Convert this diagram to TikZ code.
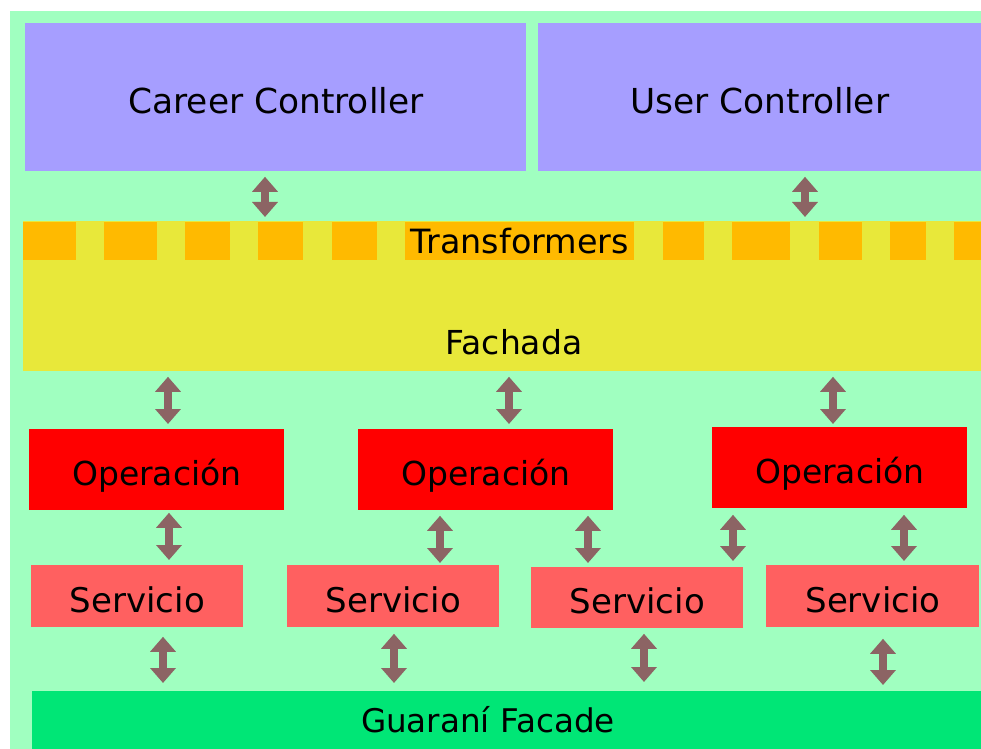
\documentclass[tikz,border=0pt]{standalone}
\usepackage{fontspec}
\setmainfont{DejaVu Sans}
\usetikzlibrary{arrows.meta}
\definecolor{bgc}{RGB}{160,255,192}
\definecolor{ctrlc}{RGB}{166,158,255}
\definecolor{facc}{RGB}{232,232,58}
\definecolor{orc}{RGB}{255,186,0}
\definecolor{opc}{RGB}{255,0,0}
\definecolor{svc}{RGB}{255,96,96}
\definecolor{guc}{RGB}{0,230,118}
\definecolor{arrc}{RGB}{140,100,100}

\begin{document}
\begin{tikzpicture}[x=0.5pt,y=-0.5pt,
  txt/.style={inner sep=0pt,text height=12pt,text depth=0pt,font=\fontsize{16.5}{20}\selectfont},
  box/.style={txt,anchor=north west,text height=16pt},
  link/.style={<->,>={Triangle[width=12.5pt,length=7.5pt]},line width=3.75pt,draw=arrc}]
\useasboundingbox (0,0) rectangle (981,749);
\fill[bgc] (10,11) rectangle (981,749);

% controllers
\node[box,fill=ctrlc,minimum width=250.5pt,minimum height=74pt,font=\fontsize{17.2}{20}\selectfont] (cc) at (25,23) {Career Controller};
\node[box,fill=ctrlc,minimum width=221.5pt,minimum height=74pt,font=\fontsize{17.2}{20}\selectfont] (uc) at (538,23) {User Controller};

% fachada with the transformers strip on top
\node[box,fill=facc,minimum width=479pt,minimum height=75pt] (fa) at (23,221) {};
\fill[orc] (23,222) rectangle (76,260);
\fill[orc] (104,222) rectangle (157,260);
\fill[orc] (185,222) rectangle (230,260);
\fill[orc] (258,222) rectangle (303,260);
\fill[orc] (332,222) rectangle (377,260);
\fill[orc] (663,222) rectangle (704,260);
\fill[orc] (732,222) rectangle (790,260);
\fill[orc] (819,222) rectangle (862,260);
\fill[orc] (890,222) rectangle (926,260);
\fill[orc] (954,222) rectangle (981,260);
\node[txt,anchor=north west,fill=orc,minimum width=114.5pt,minimum height=19pt,font=\fontsize{16.7}{20}\selectfont] (tr) at (405,222) {Transformers};
\node[txt] (fat) at (514,342.5) {Fachada};

% operaciones
\node[box,fill=opc,minimum width=127.5pt,minimum height=40.5pt] (o1) at (29,429) {Operación};
\node[box,fill=opc,minimum width=127.5pt,minimum height=40.5pt] (o2) at (358,429) {Operación};
\node[box,fill=opc,minimum width=127.5pt,minimum height=40.5pt] (o3) at (712,427) {Operación};

% servicios
\node[box,fill=svc,minimum width=106pt,minimum height=31pt,font=\fontsize{17}{20}\selectfont] (s1) at (31,565) {Servicio};
\node[box,fill=svc,minimum width=106pt,minimum height=31pt,font=\fontsize{17}{20}\selectfont] (s2) at (287,565) {Servicio};
\node[box,fill=svc,minimum width=106pt,minimum height=30.5pt,font=\fontsize{17}{20}\selectfont] (s3) at (531,567) {Servicio};
\node[box,fill=svc,minimum width=106.5pt,minimum height=31pt,font=\fontsize{17}{20}\selectfont] (s4) at (766,565) {Servicio};

% guarani
\node[box,fill=guc,minimum width=474.5pt,minimum height=29pt,
  label={[txt,xshift=-9.5pt,font=\fontsize{16.3}{20}\selectfont]center:Guaraní Facade}] (g) at (32,691) {};

\draw[link,shorten <=2.5pt,shorten >=2pt] (cc.south -| 265,0) to (fa.north -| 265,0);
\draw[link,shorten <=2.5pt,shorten >=2pt] (uc.south -| 805,0) to (fa.north -| 805,0);
\draw[link,shorten <=2.5pt,shorten >=2.5pt] (fa.south -| 168,0) to (o1.north -| 168,0);
\draw[link,shorten <=2.5pt,shorten >=2.5pt] (fa.south -| 509,0) to (o2.north -| 509,0);
\draw[link,shorten <=2.5pt,shorten >=1.5pt] (fa.south -| 833,0) to (o3.north -| 833,0);
\draw[link,shorten <=1pt,shorten >=2.5pt] (o1.south -| 169,0) to (s1.north -| 169,0);
\draw[link,shorten <=2.5pt,shorten >=1pt] (o2.south -| 440,0) to (s2.north -| 440,0);
\draw[link,shorten <=2.5pt,shorten >=2pt] (o2.south -| 588,0) to (s3.north -| 588,0);
\draw[link,shorten <=3pt,shorten >=3pt] (o3.south -| 733,0) to (s3.north -| 733,0);
\draw[link,shorten <=3pt,shorten >=2pt] (o3.south -| 904,0) to (s4.north -| 904,0);
\draw[link,shorten <=4.5pt,shorten >=4pt] (s1.south -| 163,0) to (g.north -| 163,0);
\draw[link,shorten <=3pt,shorten >=4pt] (s2.south -| 394,0) to (g.north -| 394,0);
\draw[link,shorten <=2.5pt,shorten >=4.5pt] (s3.south -| 644,0) to (g.north -| 644,0);
\draw[link,shorten <=5.5pt,shorten >=3pt] (s4.south -| 883,0) to (g.north -| 883,0);
\end{tikzpicture}
\end{document}
